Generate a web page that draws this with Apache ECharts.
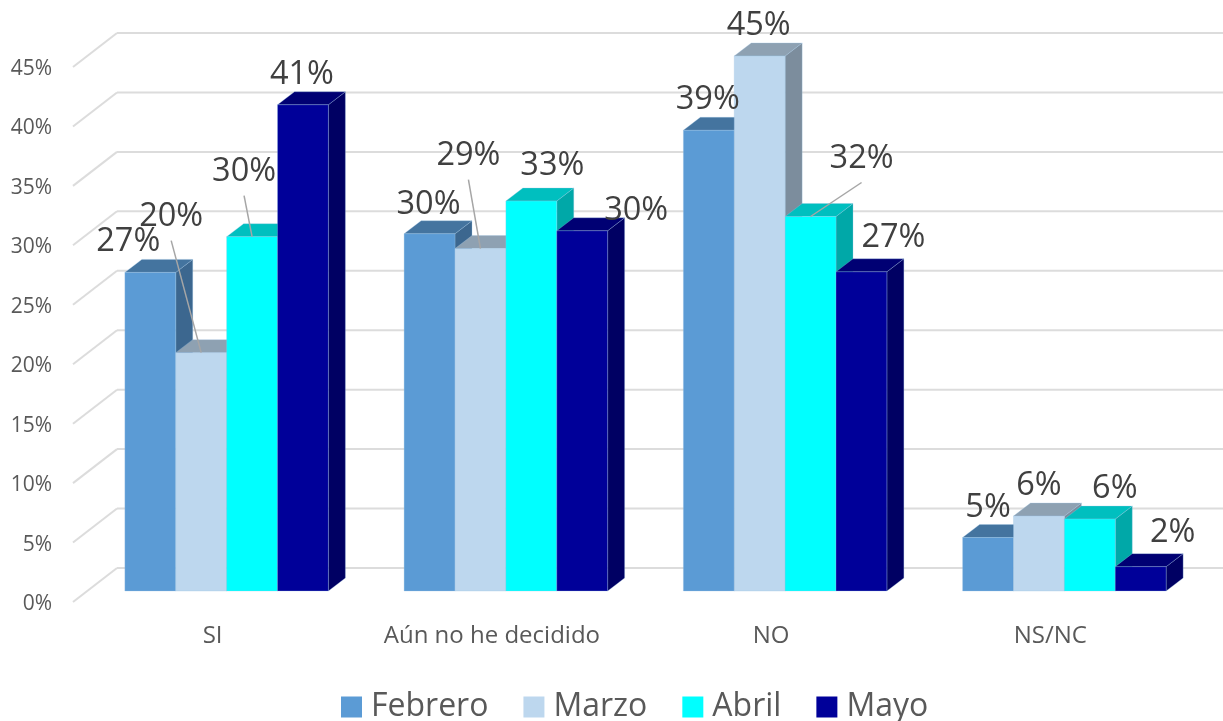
<!DOCTYPE html>
<html>
<head>
<meta charset="utf-8">
<title>Chart</title>
<script src="https://cdn.jsdelivr.net/npm/echarts@6/dist/echarts.min.js"></script>
<style>
  html, body { margin: 0; padding: 0; background: #fff; }
  #chart { width: 1223px; height: 721px; }
</style>
</head>
<body>
<div id="chart"></div>
<script>
const categories = ['SI', 'Aún no he decidido', 'NO', 'NS/NC'];
const febrero = [26.8, 30.05, 38.75, 4.5];
const marzo = [20.05, 28.8, 45, 6.3];
const abril = [29.8, 32.8, 31.5, 6.05];
const mayo = [40.9, 30.3, 26.85, 2.05];
const yTicks = [0, 5, 10, 15, 20, 25, 30, 35, 40, 45];

const FONT = '"Open Sans", sans-serif';

// fake 3d: how far the bars and the back wall sit from the axis plane
const barShift = [14, -11];
const wallShift = [44, -34];
const barDepth = [17, -13];
const barShare = 0.1822; // bar width / category width

// [front, top, side]
const months = [
  { name: 'Febrero', values: febrero, colors: ['#5b9bd5', '#44749f', '#3c678f'] },
  { name: 'Marzo', values: marzo, colors: ['#bdd7ee', '#8ea1b2', '#7c8d9d'] },
  { name: 'Abril', values: abril, colors: ['#00ffff', '#00bfbf', '#00a8a8'] },
  { name: 'Mayo', values: mayo, colors: ['#000099', '#000073', '#000063'] }
];

// label offset from the bar's top centre, per month and category: [dx, dy, leader line?]
const labelNudge = [
  [[-22, -31], [-1, -29], [-1, -31], [0, -30]],
  [[-30, -136, true], [-12, -93, true], [-1, -30], [0, -30]],
  [[-8, -65, true], [21, -35], [51, -58, true], [25, -30]],
  [[-1, -30], [54, -20], [32, -34], [32, -34]]
];

function face(points, fill) {
  return {
    type: 'polygon',
    shape: { points: points },
    style: { fill: fill, stroke: 'rgba(157,195,230,0.3)', lineWidth: 1 }
  };
}

function renderBar(params, api) {
  const m = params.seriesIndex - 1; // series 0 is the wall
  const cat = api.value(0);
  const val = api.value(1);
  const w = api.size([1, 0])[0] * barShare;
  const top = api.coord([cat, val]);
  const base = api.coord([cat, 0]);
  const x0 = top[0] + barShift[0] + (m - 2) * w;
  const x1 = x0 + w;
  const yT = top[1] + barShift[1];
  const yB = base[1] + barShift[1];
  const dx = barDepth[0];
  const dy = barDepth[1];
  const c = months[m].colors;

  const children = [
    face([[x1, yB], [x1 + dx, yB + dy], [x1 + dx, yT + dy], [x1, yT]], c[2]),
    face([[x0, yT], [x1, yT], [x1 + dx, yT + dy], [x0 + dx, yT + dy]], c[1]),
    face([[x0, yT], [x1, yT], [x1, yB], [x0, yB]], c[0])
  ];

  const nudge = labelNudge[m][cat];
  const lx = x0 + w / 2 + nudge[0];
  const ly = yT + nudge[1];
  if (nudge[2]) {
    children.push({
      type: 'line',
      z2: 90,
      shape: { x1: lx, y1: ly + 24, x2: x0 + w / 2, y2: yT },
      style: { stroke: '#a6a6a6', lineWidth: 1.5 }
    });
  }
  children.push({
    type: 'text',
    z2: 100,
    x: lx,
    y: ly,
    style: {
      text: Math.round(val) + '%',
      fill: '#404040',
      fontFamily: FONT,
      fontSize: 32.5,
      align: 'center',
      verticalAlign: 'middle'
    }
  });
  return { type: 'group', children: children };
}

function renderWall(params, api) {
  const p = api.coord([0, api.value(1)]);
  const cs = params.coordSys;
  const xL = cs.x;
  const y = p[1];
  const line = { stroke: '#dcdcdc', lineWidth: 2 };
  return {
    type: 'group',
    children: [
      { type: 'line', shape: { x1: xL, y1: y, x2: xL + wallShift[0], y2: y + wallShift[1] }, style: line },
      { type: 'line', shape: { x1: xL + wallShift[0], y1: y + wallShift[1], x2: cs.x + cs.width + wallShift[0], y2: y + wallShift[1] }, style: line }
    ]
  };
}

const chart = echarts.init(document.getElementById('chart'), null, { renderer: 'canvas' });

const option = {
  backgroundColor: '#fff',
  animation: false,
  textStyle: { fontFamily: FONT },
  grid: { left: 73, right: 33, top: 67, bottom: 119 },
  legend: {
    data: months.map(m => m.name),
    left: 336,
    top: 686,
    icon: 'rect',
    itemWidth: 21,
    itemHeight: 21,
    itemGap: 35,
    textStyle: { color: '#595959', fontSize: 32, fontFamily: FONT, padding: [0, 0, 0, 4] }
  },
  xAxis: {
    type: 'category',
    data: categories,
    axisLine: { show: false },
    axisTick: { show: false },
    axisLabel: { color: '#595959', fontSize: 24, fontFamily: FONT, margin: 22, interval: 0, hideOverlap: false }
  },
  yAxis: {
    type: 'value',
    min: 0,
    max: 45,
    interval: 5,
    axisLine: { show: false },
    axisTick: { show: false },
    splitLine: { show: false },
    axisLabel: {
      margin: 21,
      formatter: v => '{t|' + v + '%}',
      rich: { t: { color: '#595959', fontSize: 21, fontFamily: FONT, padding: [4, 0, 0, 0] } }
    }
  },
  series: [
    {
      type: 'custom',
      name: 'wall',
      z: 1,
      silent: true,
      clip: false,
      renderItem: renderWall,
      encode: { x: 0, y: 1 },
      data: yTicks.map(v => [0, v])
    }
  ].concat(months.map(m => ({
    type: 'custom',
    name: m.name,
    z: 2,
    clip: false,
    itemStyle: { color: m.colors[0] },
    renderItem: renderBar,
    encode: { x: 0, y: 1 },
    data: m.values.map((v, i) => [i, v])
  })))
};

chart.setOption(option);
</script>
</body>
</html>
